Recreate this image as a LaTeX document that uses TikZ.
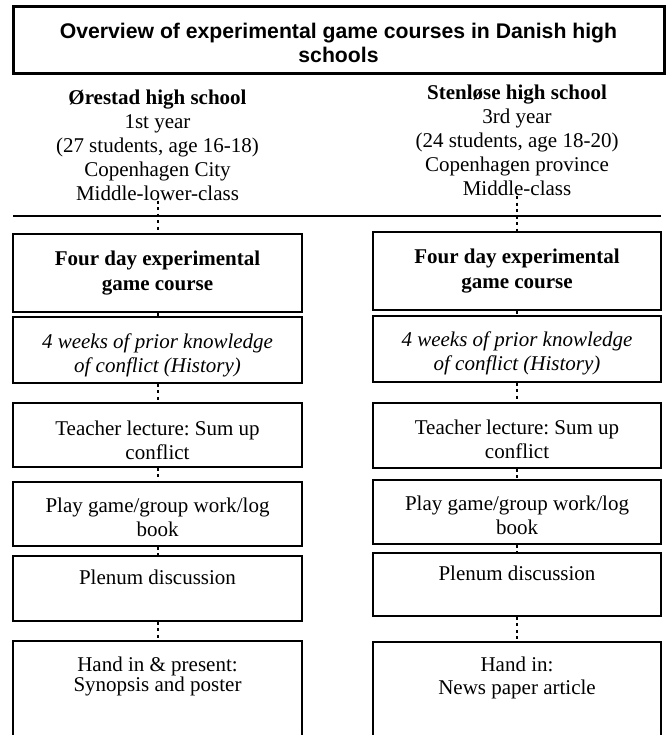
\documentclass[tikz,border=0pt]{standalone}
\usepackage{fontspec}
\setmainfont{Liberation Serif}
\newfontfamily\headfont{Liberation Sans}
\usepackage{tikz}
\frenchspacing

\begin{document}
\begin{tikzpicture}[x=1pt,y=-1pt,
	box/.style={draw,line width=1.3pt,align=center,inner xsep=0pt,inner ysep=3pt,
		font=\fontsize{21}{24}\selectfont},
	lbox/.style={box,minimum width=289pt},
	rbox/.style={box,minimum width=288pt},
	tx/.style={text height=#1,text depth=5pt},
	dots/.style={line width=2pt,dash pattern=on 3pt off 3.5pt}]
\useasboundingbox (0,0) rectangle (666,735);
\clip (0,0) rectangle (666,735);
\path (338.5,40.5) node[draw,line width=3pt,minimum width=651pt,minimum height=67pt,
			align=center,text height=48pt,text depth=4pt,
			font=\headfont\bfseries\fontsize{21.2}{24}\selectfont](t)
			{Overview of experimental game courses in Danish high\\schools}
		(157.5,145) node[align=center,inner sep=0pt,font=\fontsize{21}{24}\selectfont](hl)
			{\textbf{Ørestad high school}\\1st year\\(27 students, age 16-18)\\Copenhagen City\\Middle-lower-class}
		(517,140.5) node[align=center,inner sep=0pt,font=\fontsize{21}{24}\selectfont](hr)
			{\textbf{Stenløse high school}\\3rd year\\(24 students, age 18-20)\\Copenhagen province\\Middle-class}
		(157.5,273) node[lbox,minimum height=78pt](l1) {\textbf{Four day experimental}\\[1pt]\textbf{game course}}
		(157.5,350) node[lbox,minimum height=66pt,tx=49pt](l2) {\textit{4 weeks of prior knowledge}\\\textit{of conflict (History)}}
		(157.5,435) node[lbox,minimum height=64pt,tx=53pt](l3) {Teacher lecture: Sum up\\conflict}
		(157.5,514) node[lbox,minimum height=64pt,tx=49pt](l4) {Play game/group work/log\\book}
		(157.5,588.5) node[lbox,minimum height=65pt,text depth=22pt](l5) {Plenum discussion}
		(157.5,720.5) node[lbox,minimum height=159pt,text height=35pt,text depth=94pt](l6) {Hand in \& present:\\[-4pt]Synopsis and poster}
		(517,271) node[rbox,minimum height=78pt](r1) {\textbf{Four day experimental}\\[1pt]\textbf{game course}}
		(517,349) node[rbox,minimum height=66pt,tx=47pt](r2) {\textit{4 weeks of prior knowledge}\\\textit{of conflict (History)}}
		(517,435.5) node[rbox,minimum height=65pt,tx=50pt](r3) {Teacher lecture: Sum up\\conflict}
		(517,512) node[rbox,minimum height=64pt,tx=49pt](r4) {Play game/group work/log\\book}
		(517,584.5) node[rbox,minimum height=63pt,text depth=23.5pt](r5) {Plenum discussion}
		(517,721.5) node[rbox,minimum height=159pt,text height=38pt,text depth=93pt](r6) {Hand in:\\[-1pt]News paper article}
		;
	\draw[line width=1.5pt] (13,216) -- (661,216);
	\draw[dots] (node cs:name=hl) -- (node cs:name=l1);
	\draw[dots] (node cs:name=l1) -- (node cs:name=l2);
	\draw[dots] (node cs:name=l2) -- (node cs:name=l3);
	\draw[dots] (node cs:name=l3) -- (node cs:name=l4);
	\draw[dots] (node cs:name=l4) -- (node cs:name=l5);
	\draw[dots] (node cs:name=l5) -- (node cs:name=l6);
	\draw[dots] (node cs:name=hr) -- (node cs:name=r1);
	\draw[dots] (node cs:name=r1) -- (node cs:name=r2);
	\draw[dots] (node cs:name=r2) -- (node cs:name=r3);
	\draw[dots] (node cs:name=r3) -- (node cs:name=r4);
	\draw[dots] (node cs:name=r4) -- (node cs:name=r5);
	\draw[dots] (node cs:name=r5) -- (node cs:name=r6);
\end{tikzpicture}
\end{document}
